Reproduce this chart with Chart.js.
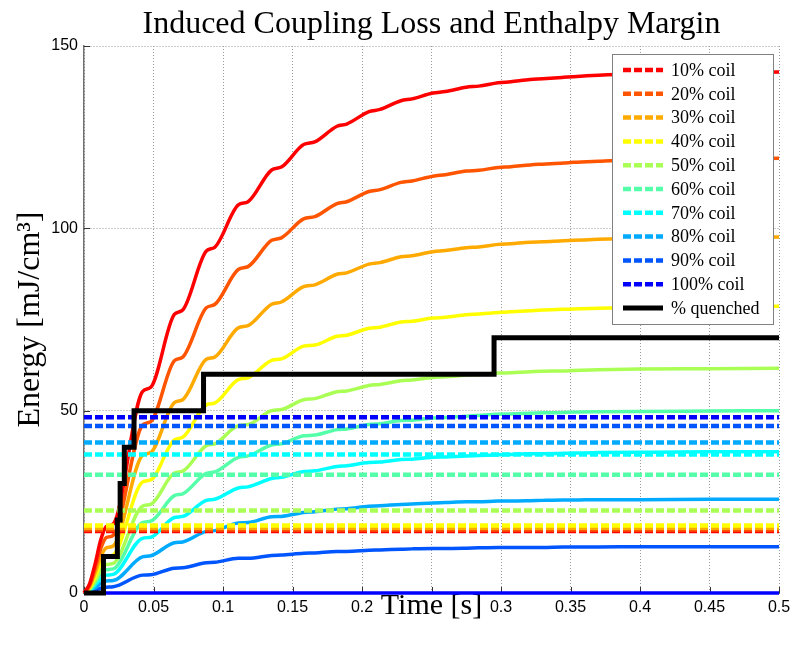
<!DOCTYPE html>
<html><head><meta charset="utf-8">
<script src="https://cdn.jsdelivr.net/npm/chart.js@4.4.0/dist/chart.umd.min.js"></script>
<style>html,body{margin:0;padding:0;background:#fff;}#wrap{width:799px;height:647px;}</style>
</head><body><div id="wrap"><canvas id="c" width="799" height="647"></canvas></div>
<script>
// ---- data ----
const times = [0, 0.004, 0.008, 0.012, 0.016, 0.021, 0.042, 0.048, 0.065, 0.071, 0.088, 0.094, 0.111, 0.118, 0.135, 0.142, 0.158, 0.166, 0.182, 0.189, 0.205, 0.213, 0.228, 0.236, 0.251, 0.26, 0.275, 0.284, 0.298, 0.307, 0.321, 0.33, 0.345, 0.352, 0.37, 0.4, 0.45, 0.5];
const loss10 = [0, 2.5, 8, 14.5, 18.2, 18.9, 55.2, 56.4, 76.4, 77.6, 93.8, 94.8, 106.4, 107.3, 116.0, 116.8, 123.0, 123.7, 128.0, 128.6, 132.0, 132.6, 135.0, 135.5, 137.1, 137.5, 138.7, 139.0, 139.9, 140.2, 140.8, 141.0, 141.4, 141.6, 142.0, 142.4, 142.7, 142.9];
const loss20 = [0, 2.1, 6.7, 12.1, 15.2, 15.8, 46.0, 47.0, 63.7, 64.7, 78.2, 79.1, 88.7, 89.5, 96.7, 97.4, 102.6, 103.2, 106.8, 107.3, 110.1, 110.6, 112.6, 113.0, 114.3, 114.7, 115.7, 115.9, 116.7, 116.9, 117.4, 117.6, 117.9, 118.1, 118.4, 118.8, 119.0, 119.2];
const loss30 = [0, 1.7, 5.5, 9.9, 12.4, 12.9, 37.7, 38.5, 52.2, 53.0, 64.1, 64.7, 72.7, 73.3, 79.2, 79.8, 84.0, 84.5, 87.4, 87.8, 90.2, 90.6, 92.2, 92.5, 93.6, 93.9, 94.7, 94.9, 95.6, 95.8, 96.2, 96.3, 96.6, 96.7, 97.0, 97.3, 97.5, 97.6];
const loss40 = [0, 1.4, 4.4, 8.0, 10.0, 10.4, 30.4, 31.0, 42.0, 42.7, 51.6, 52.1, 58.5, 59.0, 63.8, 64.2, 67.7, 68.0, 70.4, 70.7, 72.6, 72.9, 74.3, 74.5, 75.4, 75.6, 76.3, 76.5, 76.9, 77.1, 77.4, 77.6, 77.8, 77.9, 78.1, 78.3, 78.5, 78.6];
const loss50 = [0, 1.1, 3.4, 6.2, 7.8, 8.1, 23.8, 24.3, 32.9, 33.4, 40.4, 40.9, 45.9, 46.2, 50.0, 50.3, 53.0, 53.3, 55.2, 55.4, 56.9, 57.2, 58.2, 58.4, 59.1, 59.3, 59.8, 59.9, 60.3, 60.4, 60.7, 60.8, 60.9, 61.0, 61.2, 61.4, 61.5, 61.6];
const loss60 = [0, 0.9, 2.8, 5.1, 6.4, 6.6, 19.3, 19.7, 26.7, 27.2, 32.8, 33.2, 37.2, 37.6, 40.6, 40.9, 43.1, 43.3, 44.8, 45.0, 46.2, 46.4, 47.3, 47.4, 48.0, 48.1, 48.5, 48.7, 49.0, 49.1, 49.3, 49.4, 49.5, 49.6, 49.7, 49.8, 49.9, 50.0];
const loss70 = [0, 0.7, 2.2, 3.9, 4.9, 5.1, 15.0, 15.3, 20.7, 21.0, 25.4, 25.7, 28.8, 29.1, 31.4, 31.7, 33.3, 33.5, 34.7, 34.9, 35.8, 35.9, 36.6, 36.7, 37.2, 37.3, 37.6, 37.7, 37.9, 38.0, 38.2, 38.2, 38.3, 38.4, 38.5, 38.6, 38.7, 38.7];
const loss80 = [0, 0.5, 1.4, 2.6, 3.3, 3.4, 9.9, 10.2, 13.8, 14.0, 16.9, 17.1, 19.2, 19.3, 20.9, 21.0, 22.1, 22.3, 23.0, 23.1, 23.8, 23.9, 24.3, 24.4, 24.7, 24.8, 25.0, 25.0, 25.2, 25.2, 25.3, 25.4, 25.5, 25.5, 25.6, 25.6, 25.7, 25.7];
const loss90 = [0, 0.2, 0.7, 1.3, 1.6, 1.7, 4.9, 5.0, 6.8, 6.9, 8.3, 8.4, 9.5, 9.5, 10.3, 10.4, 10.9, 11.0, 11.4, 11.4, 11.7, 11.8, 12.0, 12.1, 12.2, 12.2, 12.3, 12.4, 12.5, 12.5, 12.5, 12.5, 12.6, 12.6, 12.6, 12.7, 12.7, 12.7];
const loss100 = [0, 0, 0, 0, 0, 0, 0, 0, 0, 0, 0, 0, 0, 0, 0, 0, 0, 0, 0, 0, 0, 0, 0, 0, 0, 0, 0, 0, 0, 0, 0, 0, 0, 0, 0, 0, 0, 0];
const coilLabels = ['10% coil', '20% coil', '30% coil', '40% coil', '50% coil', '60% coil', '70% coil', '80% coil', '90% coil', '100% coil'];
const enthalpyMargin = [17.0, 17.4, 17.9, 18.5, 22.6, 32.4, 38.0, 41.3, 45.8, 48.2];
const quenchLabel = '% quenched';
const quenchTimes = [0, 0.014, 0.024, 0.026, 0.029, 0.036, 0.086, 0.295, 0.5];
const quenchPercent = [0, 10, 20, 30, 40, 50, 60, 70, 70];
const xTickValues = [0, 0.05, 0.1, 0.15, 0.2, 0.25, 0.3, 0.35, 0.4, 0.45, 0.5];
const xTickLabels = ['0', '0.05', '0.1', '0.15', '0.2', '', '0.3', '0.35', '0.4', '0.45', '0.5'];
const yTickValues = [0, 50, 100, 150];
const yTickLabels = ['0', '50', '100', '150'];
const titleText = 'Induced Coupling Loss and Enthalpy Margin';
const xTitle = 'Time [s]';
const yTitle = 'Energy [mJ/cm\u00B3]';

// ---- styles ----
const lossSeries = [loss10, loss20, loss30, loss40, loss50, loss60, loss70, loss80, loss90, loss100];
const colors = ['#ff0000', '#ff5500', '#ffaa00', '#ffff00', '#aaff55', '#55ffaa', '#00ffff', '#00aaff', '#0055ff', '#0000ff'];
const SERIF = "'Liberation Serif','Times New Roman',serif";
const SANS = "'Liberation Sans',Arial,sans-serif";
const DASH = [8, 3];

const datasets = [];
datasets.push({
  label: quenchLabel, legendEntry: true,
  data: quenchTimes.map((t, i) => ({x: t, y: quenchPercent[i]})),
  borderColor: '#000000', borderWidth: 5, stepped: true, pointRadius: 0, fill: false
});
enthalpyMargin.slice().reverse().forEach((m, r) => {
  const i = enthalpyMargin.length - 1 - r;
  datasets.push({
    label: coilLabels[i], legendEntry: true, legendIndex: i,
    data: [{x: xTickValues[0], y: m}, {x: xTickValues[xTickValues.length - 1], y: m}],
    borderColor: colors[i], borderWidth: 4.5, borderDash: DASH, pointRadius: 0, fill: false
  });
});
lossSeries.forEach((s, i) => {
  datasets.push({
    label: coilLabels[i] + ' loss',
    data: times.map((t, k) => ({x: t, y: s[k]})),
    borderColor: colors[i], borderWidth: 3.5, pointRadius: 0, fill: false,
    cubicInterpolationMode: 'monotone'
  });
});

const decor = {
  id: 'decor',
  beforeDatasetsDraw(chart) {
    const {ctx, chartArea: a, scales} = chart;
    ctx.save();
    ctx.strokeStyle = '#333'; ctx.lineWidth = 1;
    xTickValues.forEach(v => {
      const px = Math.round(scales.x.getPixelForValue(v)) + 0.5;
      ctx.beginPath(); ctx.moveTo(px, a.bottom); ctx.lineTo(px, a.bottom - 6); ctx.stroke();
    });
    yTickValues.forEach(v => {
      const py = Math.round(scales.y.getPixelForValue(v)) + 0.5;
      ctx.beginPath(); ctx.moveTo(a.left, py); ctx.lineTo(a.left + 6, py); ctx.stroke();
    });
    ctx.restore();
  },
  afterDraw(chart) {
    const {ctx, chartArea: a} = chart;
    const entries = [];
    chart.data.datasets.forEach(d => { if (d.legendEntry && d.legendIndex !== undefined) entries[d.legendIndex] = d; });
    chart.data.datasets.forEach(d => { if (d.legendEntry && d.legendIndex === undefined) entries.push(d); });
    const w = 161, h = 270;
    const left = a.right - 167, top = a.top + 8;
    ctx.save();
    ctx.fillStyle = '#ffffff';
    ctx.fillRect(left, top, w, h);
    ctx.strokeStyle = '#808080'; ctx.lineWidth = 1;
    ctx.strokeRect(left + 0.5, top + 0.5, w, h);
    ctx.font = '18px ' + SERIF;
    ctx.textBaseline = 'middle'; ctx.textAlign = 'left';
    entries.forEach((d, i) => {
      const yy = top + 16 + i * 23.8;
      ctx.beginPath();
      ctx.setLineDash(d.borderDash || []);
      ctx.strokeStyle = d.borderColor; ctx.lineWidth = d.borderDash ? 4.5 : 5;
      ctx.moveTo(left + 11, yy); ctx.lineTo(left + 51, yy); ctx.stroke();
      ctx.setLineDash([]);
      ctx.fillStyle = '#000';
      ctx.fillText(d.label, left + 59, yy + 1);
    });
    ctx.restore();
  }
};

new Chart(document.getElementById('c'), {
  type: 'line',
  data: {datasets},
  plugins: [decor],
  options: {
    responsive: false, animation: false,
    layout: {padding: {left: 0, right: 20, top: 0, bottom: 0}},
    datasets: {line: {clip: false}},
    plugins: {
      legend: {display: false}, tooltip: {enabled: false},
      title: {display: true, fullSize: false, text: titleText, color: '#000', font: {family: SERIF, size: 32, weight: 'normal'}, padding: {top: 5, bottom: 2.6}}
    },
    scales: {
      x: {
        type: 'linear', min: 0, max: 0.5,
        afterBuildTicks: s => { s.ticks = xTickValues.map(v => ({value: v})); },
        afterFit: s => { s.height = 54; },
        ticks: {autoSkip: false, maxRotation: 0, padding: 5, color: '#000', font: {family: SANS, size: 16}, callback: (v, i) => xTickLabels[i]},
        grid: {color: '#9a9a9a', lineWidth: 1, drawTicks: false},
        border: {display: true, color: '#707070', width: 1, dash: [1, 2]},
        title: {display: true, text: xTitle, color: '#000', font: {family: SERIF, size: 30}, padding: {top: 0, bottom: 23}}
      },
      y: {
        type: 'linear', min: 0, max: 150,
        afterBuildTicks: s => { s.ticks = yTickValues.map(v => ({value: v})); },
        afterFit: s => { s.width = 84; },
        ticks: {autoSkip: false, padding: 6, color: '#000', font: {family: SANS, size: 16}, callback: (v, i) => yTickLabels[i]},
        grid: {color: '#9a9a9a', lineWidth: 1, drawTicks: false},
        border: {display: true, color: '#707070', width: 1.5, dash: [1, 2]},
        title: {display: true, text: yTitle, color: '#000', font: {family: SERIF, size: 32}, padding: {top: 11, bottom: 0}}
      }
    }
  }
});
</script></body></html>
